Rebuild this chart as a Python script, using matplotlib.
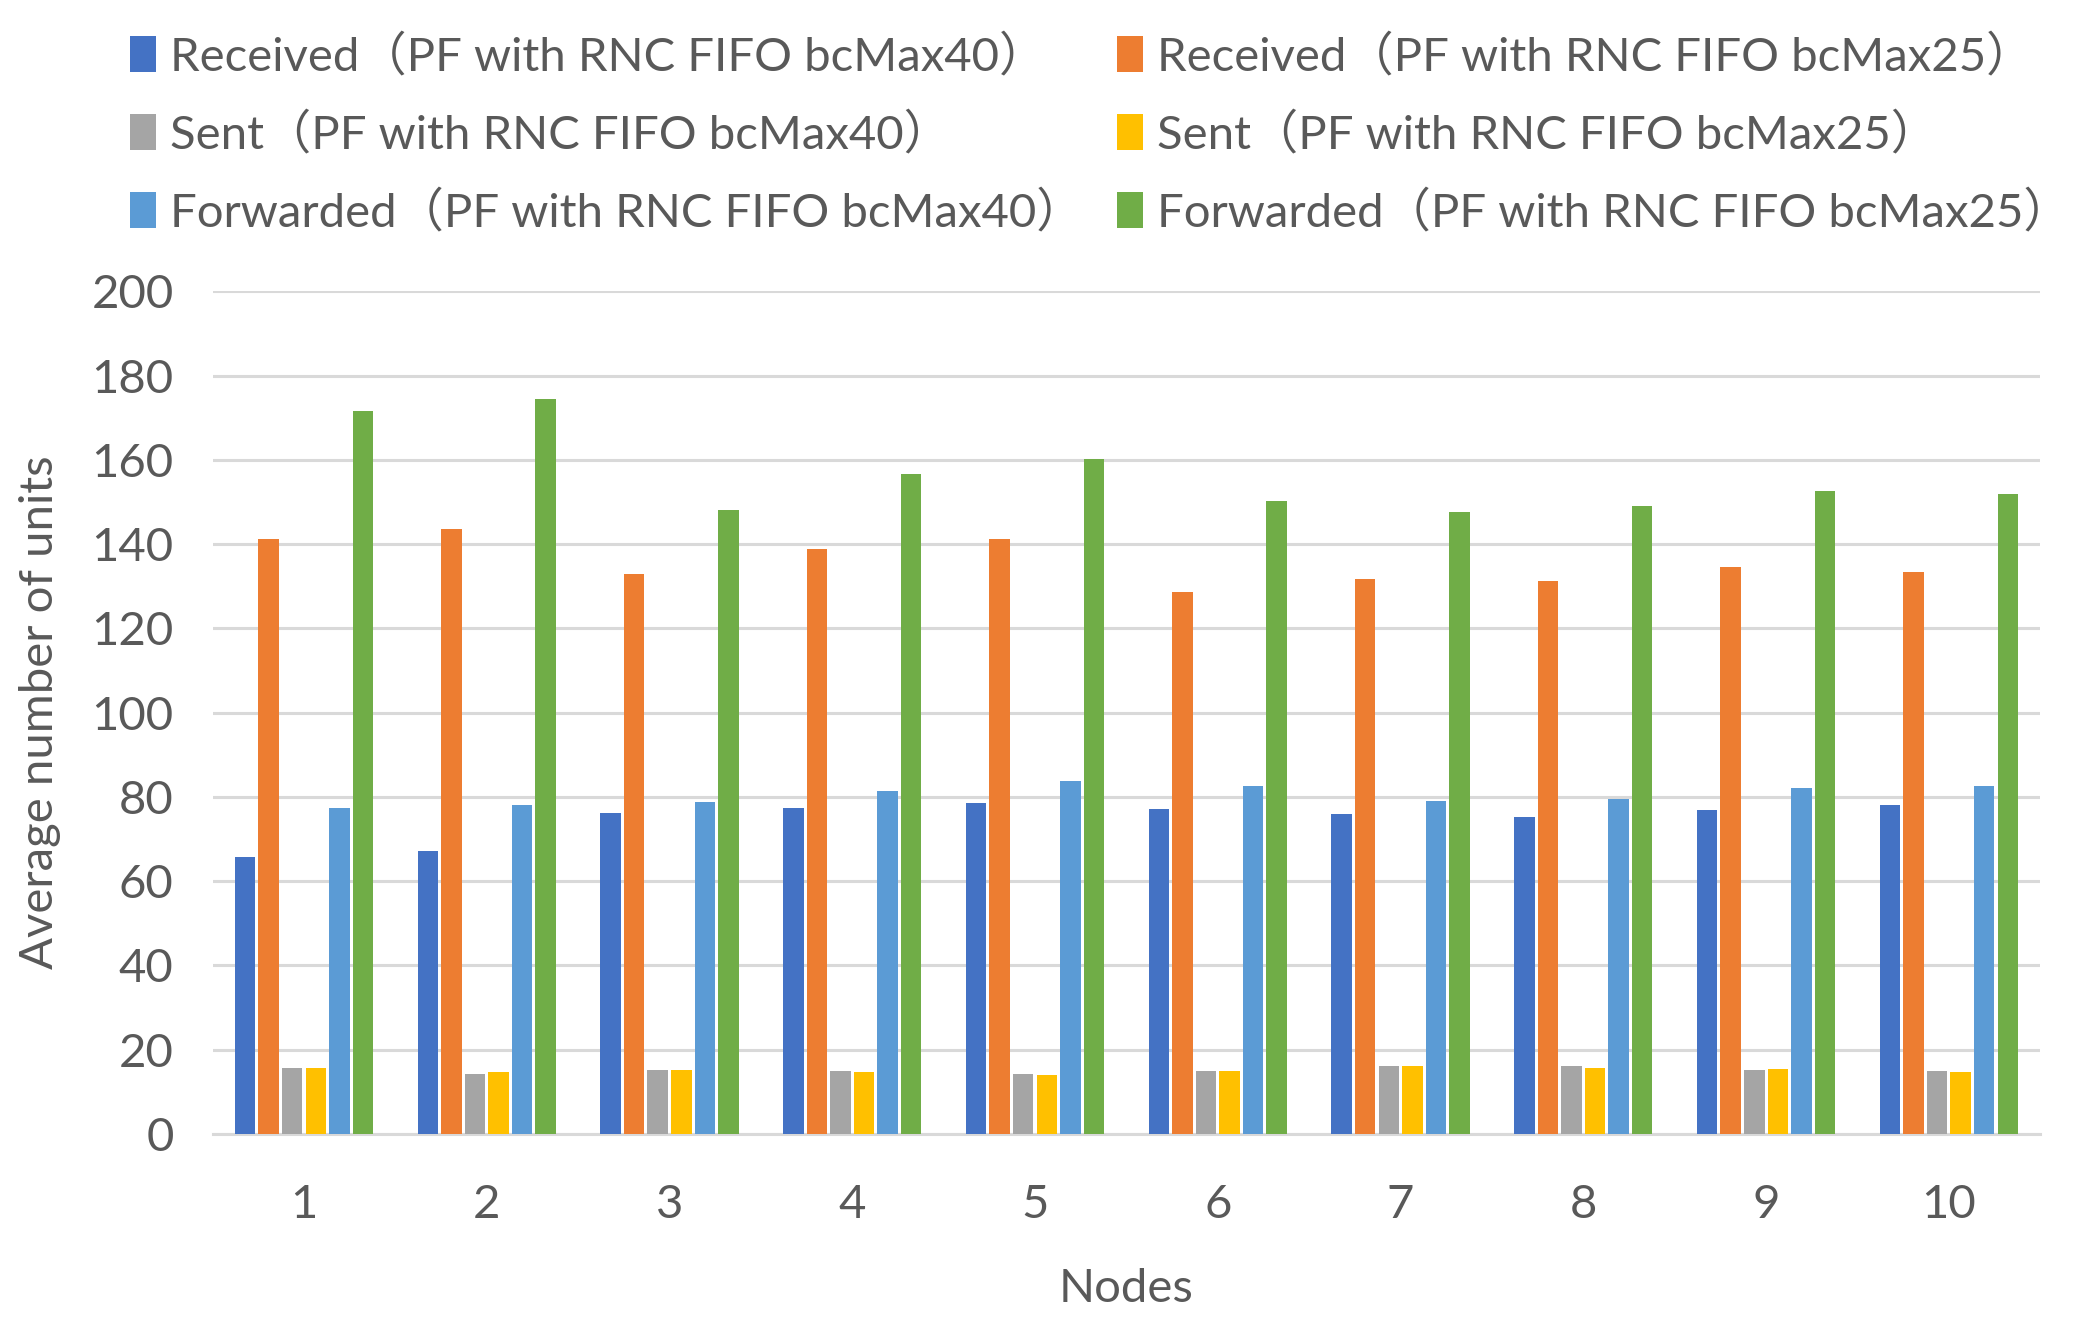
import matplotlib.pyplot as plt
import numpy as np

plt.rcParams['font.family'] = ['Lato', 'Noto Sans CJK SC', 'DejaVu Sans']

nodes = ['1', '2', '3', '4', '5', '6', '7', '8', '9', '10']

received_40 = [65.8, 67.2, 76.3, 77.4, 78.6, 77.2, 76.0, 75.3, 77.0, 78.1]
received_25 = [141.3, 143.6, 133.0, 138.8, 141.3, 128.7, 131.7, 131.3, 134.6, 133.4]
sent_40 = [15.7, 14.3, 15.3, 15.0, 14.3, 15.0, 16.2, 16.2, 15.3, 15.0]
sent_25 = [15.7, 14.7, 15.3, 14.7, 14.0, 15.0, 16.2, 15.7, 15.5, 14.7]
forwarded_40 = [77.4, 78.1, 78.9, 81.5, 83.7, 82.7, 79.0, 79.6, 82.2, 82.7]
forwarded_25 = [171.7, 174.5, 148.0, 156.7, 160.2, 150.3, 147.7, 149.0, 152.5, 151.9]

series = [
    ('Received（PF with RNC FIFO bcMax40）', received_40, '#4472C4'),
    ('Received（PF with RNC FIFO bcMax25）', received_25, '#ED7D31'),
    ('Sent（PF with RNC FIFO bcMax40）', sent_40, '#A5A5A5'),
    ('Sent（PF with RNC FIFO bcMax25）', sent_25, '#FFC000'),
    ('Forwarded（PF with RNC FIFO bcMax40）', forwarded_40, '#5B9BD5'),
    ('Forwarded（PF with RNC FIFO bcMax25）', forwarded_25, '#70AD47'),
]

txt = '#595959'
fig = plt.figure(figsize=(20.84, 13.18), dpi=100)
ax = fig.add_axes([0.102, 0.1396, 0.877, 0.6394])

x = np.arange(1, len(nodes) + 1)
slot = 0.129
width = 0.112
barras = []
for i, (nombre, vals, color) in enumerate(series):
    b = ax.bar(x + (i - 2.5) * slot, vals, width, color=color, label=nombre, zorder=3)
    barras.append(b)

ax.set_xlim(0.5, 10.5)
ax.set_ylim(0, 200)
ax.set_yticks(range(0, 201, 20))
ax.set_xticks(x)
ax.set_xticklabels(nodes)
ax.grid(axis='y', color='#D9D9D9', linewidth=2.2, zorder=0)
for s in ['top', 'right', 'left']:
    ax.spines[s].set_visible(False)
ax.spines['bottom'].set_color('#D9D9D9')
ax.spines['bottom'].set_linewidth(2.2)
ax.tick_params(length=0, labelsize=34, colors=txt)
ax.tick_params(axis='y', pad=28)
ax.tick_params(axis='x', pad=36)

ax.set_xlabel('Nodes', fontsize=34, color=txt, labelpad=30)
ax.set_ylabel('Average number of units', fontsize=34, color=txt, labelpad=22)

# orden para que la leyenda quede en filas como el original
orden = [0, 2, 4, 1, 3, 5]
fig.legend([barras[k] for k in orden], [series[k][0] for k in orden],
           loc='upper left', bbox_to_anchor=(0.042, 1.007), ncol=2,
           frameon=False, fontsize=34, labelcolor=txt,
           handlelength=0.55, handleheight=0.8, handletextpad=0.3,
           columnspacing=0.7, labelspacing=0.7)

fig.savefig('out.png', dpi=100)
